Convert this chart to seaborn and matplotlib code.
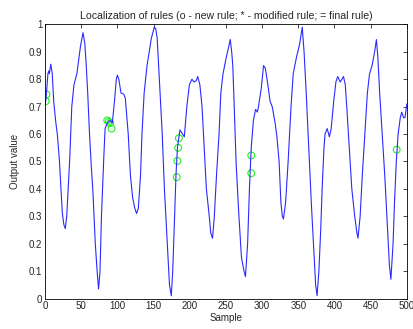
import matplotlib
matplotlib.use('Agg')
import matplotlib.pyplot as plt
import seaborn as sns
import pandas as pd

# sinal de saida
amostra = [0, 1, 2, 4, 5, 6, 8, 10, 12, 15, 17, 20, 22, 24, 26, 28, 30, 32, 34, 37,
           40, 44, 47, 49, 52.5, 55, 57, 59, 61.5, 64, 66, 69.5, 72, 74, 76, 78, 81, 83, 86, 90,
           93, 96, 98.5, 100, 102, 105, 109, 111, 115, 118, 121, 124, 126.5, 129, 132, 134, 137, 141, 144, 147,
           151, 153, 155, 158, 162, 165, 169, 172, 174.5, 176.5, 179, 181, 183, 186.5, 190, 192.5, 196, 199.5, 203, 206,
           209, 211, 214, 217, 220, 223, 227, 229, 231.5, 234, 237, 240.5, 243, 246, 250.5, 254, 256, 258, 259.5, 261.5,
           264, 268, 271.5, 275, 277, 280, 282.5, 285, 288, 291, 293.5, 295, 299, 302, 304.5, 308, 311, 314, 318, 320.5,
           323.5, 326, 328, 329.5, 332.5, 336, 340, 343, 347.5, 352, 355.5, 358, 361, 364.5, 368, 371, 374, 376, 378.5, 381,
           383, 385.5, 387, 390, 393, 395.5, 399, 402, 404.5, 408, 412.5, 415, 417, 420.5, 424, 428, 431, 432.5, 435.5, 438.5,
           442, 445.5, 448.5, 452, 455.5, 458, 460, 462.5, 466, 469.5, 472.5, 476, 478, 481, 483, 485.5, 488, 491, 493, 495.5,
           497.5, 500]
saida = [0.71, 0.72, 0.75, 0.82, 0.83, 0.82, 0.855, 0.82, 0.72, 0.64, 0.6, 0.5, 0.4, 0.31, 0.27, 0.255, 0.3, 0.4, 0.5, 0.7,
         0.78, 0.82, 0.88, 0.92, 0.97, 0.93, 0.85, 0.75, 0.6, 0.48, 0.4, 0.2, 0.1, 0.035, 0.1, 0.3, 0.5, 0.62, 0.64, 0.65,
         0.64, 0.72, 0.8, 0.815, 0.8, 0.75, 0.745, 0.73, 0.6, 0.45, 0.37, 0.33, 0.31, 0.33, 0.45, 0.6, 0.75, 0.85, 0.9, 0.95,
         0.99, 0.985, 0.95, 0.8, 0.6, 0.4, 0.2, 0.05, 0.01, 0.1, 0.3, 0.45, 0.55, 0.615, 0.6, 0.59, 0.7, 0.78, 0.8, 0.79,
         0.795, 0.81, 0.78, 0.7, 0.55, 0.4, 0.3, 0.24, 0.22, 0.3, 0.45, 0.6, 0.75, 0.82, 0.88, 0.92, 0.945, 0.9, 0.85, 0.7,
         0.5, 0.3, 0.15, 0.1, 0.08, 0.2, 0.4, 0.55, 0.65, 0.69, 0.68, 0.7, 0.77, 0.85, 0.84, 0.78, 0.72, 0.7, 0.64, 0.59,
         0.5, 0.35, 0.3, 0.29, 0.35, 0.5, 0.7, 0.82, 0.88, 0.93, 0.99, 0.9, 0.75, 0.55, 0.35, 0.2, 0.05, 0.01, 0.1, 0.25,
         0.4, 0.55, 0.6, 0.62, 0.59, 0.62, 0.72, 0.79, 0.81, 0.79, 0.81, 0.78, 0.7, 0.55, 0.4, 0.3, 0.24, 0.22, 0.3, 0.45,
         0.6, 0.75, 0.82, 0.85, 0.9, 0.945, 0.88, 0.75, 0.6, 0.45, 0.3, 0.12, 0.07, 0.2, 0.35, 0.5, 0.6, 0.66, 0.68, 0.66,
         0.66, 0.71]

# regras novas (circulos)
regra_x = [1, 2, 86, 88, 90, 92, 182, 183, 184, 185, 285, 285, 486]
regra_y = [0.72, 0.745, 0.65, 0.645, 0.64, 0.62, 0.443, 0.502, 0.55, 0.585, 0.457, 0.522, 0.543]

sns.set_style('white')
plt.rcParams['font.family'] = ['Liberation Sans', 'DejaVu Sans']
plt.rcParams['xtick.direction'] = 'in'
plt.rcParams['ytick.direction'] = 'in'

fig = plt.figure(figsize=(4.13, 3.29), dpi=100)
ax = fig.add_axes([0.109, 0.0927, 0.876, 0.833])

df = pd.DataFrame({'Sample': amostra, 'Output': saida})
sns.lineplot(data=df, x='Sample', y='Output', color='#2a2aff', linewidth=0.8, ax=ax)

df_regras = pd.DataFrame({'x': regra_x, 'y': regra_y})
sns.scatterplot(data=df_regras, x='x', y='y', marker='o', s=24, facecolor='none',
                edgecolor='#22ee22', linewidth=0.8, ax=ax)

ax.set_xlim(0, 500)
ax.set_ylim(0, 1)
ax.set_xticks(range(0, 501, 50))
ax.set_yticks([i / 10 for i in range(11)])
ax.set_yticklabels(['0', '0.1', '0.2', '0.3', '0.4', '0.5', '0.6', '0.7', '0.8', '0.9', '1'])
ax.tick_params(axis='both', which='both', labelsize=7, length=3, width=0.6,
               top=True, right=True, pad=2)
for s in ax.spines.values():
    s.set_linewidth(0.6)
    s.set_color('black')

ax.set_title('Localization of rules (o - new rule; * - modified rule; = final rule)', fontsize=7.6, pad=4)
ax.set_xlabel('Sample', fontsize=7, labelpad=1)
ax.set_ylabel('Output value', fontsize=7, labelpad=6)

plt.savefig('out.png', dpi=100)
